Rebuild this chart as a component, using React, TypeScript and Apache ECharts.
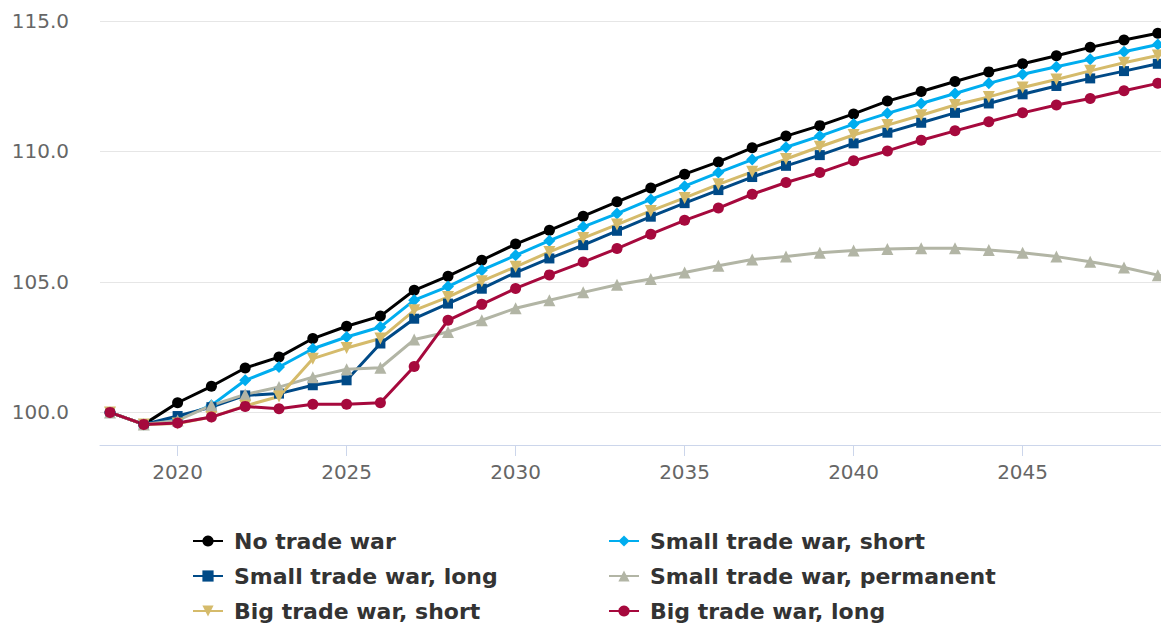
import React, { useEffect, useRef } from "react";
import * as echarts from "echarts";

const years = [2018, 2019, 2020, 2021, 2022, 2023, 2024, 2025, 2026, 2027, 2028, 2029, 2030, 2031, 2032, 2033, 2034, 2035, 2036, 2037, 2038, 2039, 2040, 2041, 2042, 2043, 2044, 2045, 2046, 2047, 2048, 2049, 2050];

const noTradeWar = [100.0, 99.54, 100.37, 101.0, 101.7, 102.12, 102.83, 103.3, 103.69, 104.68, 105.22, 105.83, 106.45, 106.98, 107.52, 108.07, 108.6, 109.13, 109.6, 110.14, 110.59, 110.99, 111.44, 111.93, 112.3, 112.68, 113.05, 113.36, 113.67, 113.99, 114.27, 114.53, 114.8];
const smallShort = [100.0, 99.54, 99.75, 100.27, 101.23, 101.74, 102.44, 102.89, 103.27, 104.3, 104.82, 105.45, 106.02, 106.58, 107.11, 107.62, 108.16, 108.67, 109.19, 109.69, 110.16, 110.59, 111.05, 111.46, 111.84, 112.22, 112.61, 112.96, 113.25, 113.53, 113.82, 114.1, 114.36];
const smallLong = [100.0, 99.54, 99.86, 100.2, 100.65, 100.72, 101.04, 101.23, 102.64, 103.59, 104.17, 104.74, 105.36, 105.9, 106.41, 106.96, 107.5, 108.02, 108.52, 109.02, 109.45, 109.86, 110.31, 110.72, 111.1, 111.48, 111.84, 112.19, 112.51, 112.8, 113.08, 113.36, 113.62];
const smallPermanent = [100.0, 99.54, 99.69, 100.27, 100.69, 100.97, 101.35, 101.65, 101.71, 102.79, 103.08, 103.53, 103.99, 104.3, 104.6, 104.89, 105.11, 105.36, 105.62, 105.86, 105.97, 106.12, 106.2, 106.26, 106.29, 106.29, 106.22, 106.12, 105.97, 105.77, 105.55, 105.26, 104.95];
const bigShort = [100.0, 99.54, 99.57, 99.82, 100.25, 100.61, 102.06, 102.47, 102.83, 103.91, 104.42, 105.03, 105.58, 106.15, 106.68, 107.2, 107.72, 108.22, 108.74, 109.22, 109.71, 110.18, 110.63, 111.01, 111.39, 111.78, 112.09, 112.45, 112.76, 113.09, 113.4, 113.68, 113.95];
const bigLong = [100.0, 99.54, 99.59, 99.82, 100.23, 100.14, 100.31, 100.31, 100.37, 101.76, 103.53, 104.14, 104.75, 105.27, 105.76, 106.28, 106.83, 107.36, 107.83, 108.36, 108.81, 109.19, 109.64, 110.02, 110.43, 110.79, 111.14, 111.48, 111.78, 112.03, 112.33, 112.61, 112.86];

const xTicks = [2020, 2025, 2030, 2035, 2040, 2045];

const seriesDefs = [
  { name: "No trade war", data: noTradeWar, color: "#000000", symbol: "circle", size: 11 },
  { name: "Small trade war, short", data: smallShort, color: "#00adef", symbol: "diamond", size: 12 },
  { name: "Small trade war, long", data: smallLong, color: "#004a87", symbol: "rect", size: 10 },
  { name: "Small trade war, permanent", data: smallPermanent, color: "#b2b5a5", symbol: "triangle", size: 12 },
  { name: "Big trade war, short", data: bigShort, color: "#d5bb6b", symbol: "path://M0,0 L10,0 L5,10 Z", size: 12 },
  { name: "Big trade war, long", data: bigLong, color: "#a6093d", symbol: "circle", size: 11 },
];

export default function App() {
  const ref = useRef<HTMLDivElement>(null);
  useEffect(() => {
    if (!ref.current) return;
    const chart = echarts.init(ref.current, undefined, { renderer: "svg" });
    const legendCommon = {
      orient: "vertical",
      top: 529,
      padding: 0,
      itemGap: 11,
      itemWidth: 30,
      itemHeight: 14,
      selectedMode: false,
      textStyle: {
        fontFamily: "DejaVu Sans",
        fontWeight: "bold",
        fontSize: 22,
        color: "#333333",
        lineHeight: 24,
        padding: [0, 0, 0, 6],
      },
    };
    chart.setOption({
      animation: false,
      backgroundColor: "#ffffff",
      grid: { left: 100, top: 21, width: 1108.5, height: 424, containLabel: false, outerBoundsMode: "none" },
      legend: [
        { ...legendCommon, left: 192, data: [seriesDefs[0].name, seriesDefs[2].name, seriesDefs[4].name] },
        { ...legendCommon, left: 608, data: [seriesDefs[1].name, seriesDefs[3].name, seriesDefs[5].name] },
      ],
      xAxis: {
        type: "value",
        min: 2017.704,
        max: 2050.5,
        axisLine: { show: true, lineStyle: { color: "#ccd6eb", width: 1 } },
        axisTick: { show: true, length: 11, lineStyle: { color: "#ccd6eb" }, customValues: xTicks },
        axisLabel: {
          customValues: xTicks,
          margin: 17,
          color: "#666666",
          fontFamily: "DejaVu Sans",
          fontSize: 20,
          formatter: (v: number) => String(v),
        },
        splitLine: { show: false },
      },
      yAxis: {
        type: "value",
        min: 98.75,
        max: 115,
        interval: 1.25,
        axisLine: { show: false },
        axisTick: { show: false },
        axisLabel: {
          margin: 31,
          color: "#666666",
          fontFamily: "DejaVu Sans",
          fontSize: 20,
          formatter: (v: number) => (Math.abs(v / 5 - Math.round(v / 5)) < 1e-6 ? v.toFixed(1) : ""),
        },
        splitLine: {
          show: true,
          lineStyle: { color: ["rgba(0,0,0,0)", "#e6e6e6", "rgba(0,0,0,0)", "rgba(0,0,0,0)"], width: 1 },
        },
      },
      series: seriesDefs.map((s) => ({
        name: s.name,
        type: "line",
        data: years.map((y, i) => [y, s.data[i]]),
        symbol: s.symbol,
        symbolSize: s.size,
        showSymbol: true,
        color: s.color,
        lineStyle: { color: s.color, width: 3 },
        itemStyle: { color: s.color },
      })),
    });
    return () => chart.dispose();
  }, []);
  return <div ref={ref} style={{ position: "fixed", left: 0, top: 0, width: 1161, height: 626 }} />;
}
